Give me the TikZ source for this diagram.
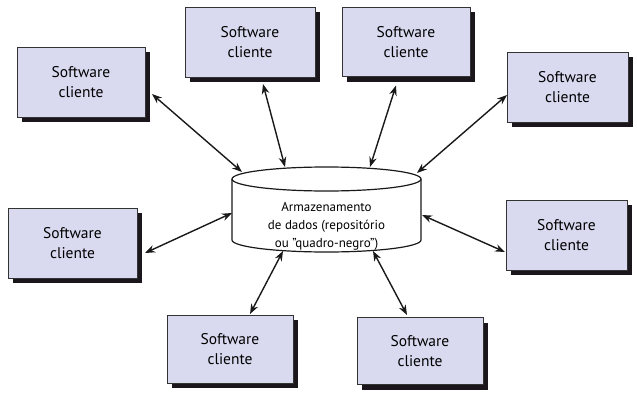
\documentclass[tikz,border=0pt]{standalone}
\usepackage{fontspec}
\setmainfont{PT Sans}
\usetikzlibrary{arrows.meta,shadows}
\definecolor{boxfill}{RGB}{217,218,240}
\definecolor{shade}{RGB}{26,22,28}
\tikzset{
  client/.style={draw=black!80, line width=0.8pt, fill=boxfill, align=center,
    inner sep=0pt, font=\fontsize{15.5}{20}\selectfont,
    drop shadow={shadow xshift=5pt, shadow yshift=-5pt, fill=shade, opacity=1}},
  link/.style={{Stealth[length=10pt,width=7.5pt]}-{Stealth[length=10pt,width=7.5pt]},
    line width=1.4pt, draw=black!90},
  cyl/.style={draw=black!90, line width=1.2pt},
}
\begin{document}
\begin{tikzpicture}[x=1pt,y=1pt]
\useasboundingbox (0,0) rectangle (637,392);

% client boxes
\node[client, minimum width=128pt, minimum height=70pt] (b1) at (81,310) {Software\\cliente};
\node[client, minimum width=130pt, minimum height=70pt] (b2) at (250,350) {Software\\cliente};
\node[client, minimum width=128pt, minimum height=69pt] (b3) at (406,350) {Software\\cliente};
\node[client, minimum width=121pt, minimum height=70pt] (b4) at (567.5,305) {Software\\cliente};
\node[client, minimum width=129pt, minimum height=70pt] (b5) at (72.5,149) {Software\\cliente};
\node[client, minimum width=121pt, minimum height=70pt] (b6) at (566.5,157) {Software\\cliente};
\node[client, minimum width=126pt, minimum height=68pt] (b7) at (230,43) {Software\\cliente};
\node[client, minimum width=126pt, minimum height=67pt] (b8) at (420,41) {Software\\cliente};

% data store cylinder
\fill[white] (232,213) -- (232,152) arc[start angle=180, end angle=360, x radius=94.5pt, y radius=12pt]
  -- (421,213) arc[start angle=0, end angle=180, x radius=94.5pt, y radius=12pt] -- cycle;
\draw[cyl] (232,213) -- (232,152) arc[start angle=180, end angle=360, x radius=94.5pt, y radius=12pt] -- (421,213);
\draw[cyl] (326.5,213) ellipse[x radius=94.5pt, y radius=12pt];
\node[align=center, font=\fontsize{13}{18}\selectfont] (store) at (326.5,166)
  {Armazenamento\\de dados (repositório\\ou "quadro-negro")};

% attachment points on the cylinder
\coordinate (s1) at (242,220);
\coordinate (s2) at (285,225);
\coordinate (s3) at (370,225);
\coordinate (s4) at (417,219);
\coordinate (s5) at (232,179);
\coordinate (s6) at (422,177);
\coordinate (s7) at (283,141);
\coordinate (s8) at (373,141);

% connectors
\draw[link] ([shift={(71,-12)}]b1.center) -- (s1);
\draw[link] ([shift={(13,-42)}]b2.center) -- (s2);
\draw[link] ([shift={(-10,-43.5)}]b3.center) -- (s3);
\draw[link] ([shift={(-60.5,-8)}]b4.center) -- (s4);
\draw[link] ([shift={(72.5,-10)}]b5.center) -- (s5);
\draw[link] ([shift={(-61.5,-17)}]b6.center) -- (s6);
\draw[link] ([shift={(20,35)}]b7.center) -- (s7);
\draw[link] ([shift={(-13,36)}]b8.center) -- (s8);
\end{tikzpicture}
\end{document}
